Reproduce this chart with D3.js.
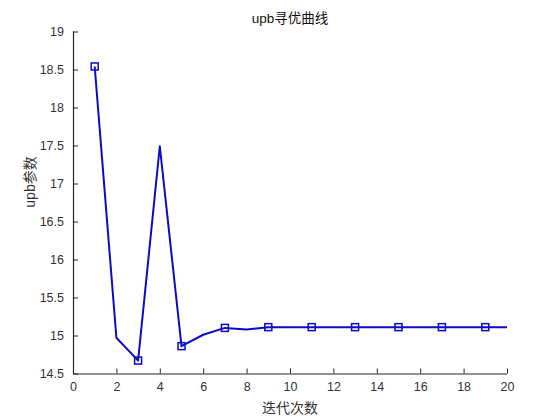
<!DOCTYPE html>
<html><head><meta charset="utf-8">
<script src="https://cdn.jsdelivr.net/npm/d3@7"></script>
<style>body{margin:0;background:#fff}svg{display:block}</style>
</head><body>
<script>
const iterations = [1,2,3,4,5,6,7,8,9,10,11,12,13,14,15,16,17,18,19,20];
const upbValues = [18.54,14.97,14.67,17.49,14.86,15.01,15.10,15.08,15.11,15.11,15.11,15.11,15.11,15.11,15.11,15.11,15.11,15.11,15.11,15.11];
const markerIters = [1,3,5,7,9,11,13,15,17,19];
const xTicks = [0,2,4,6,8,10,12,14,16,18,20];
const yTicks = [14.5,15,15.5,16,16.5,17,17.5,18,18.5,19];
const titleText = "upb寻优曲线";
const xLabel = "迭代次数";
const yLabel = "upb参数";

const W=560,H=420;
const svg=d3.select("body").append("svg").attr("width",W).attr("height",H);
const x=d3.scaleLinear().domain([0,20]).range([73,507]);
const y=d3.scaleLinear().domain([14.5,19]).range([373.5,31.5]);
const font="Arial, 'Liberation Sans', sans-serif";
const ax=svg.append("g").attr("transform","translate(0,373.5)")
  .call(d3.axisBottom(x).tickValues(xTicks).tickSize(-5).tickPadding(9).tickFormat(d3.format("d")));
const ay=svg.append("g").attr("transform","translate(73,0)")
  .call(d3.axisLeft(y).tickValues(yTicks).tickSize(-5).tickPadding(9).tickFormat(d=>String(d)));
[ax,ay].forEach(g=>{
  g.select(".domain").attr("stroke","#262626").attr("stroke-width",1.2);
  g.selectAll(".tick line").attr("stroke","#262626");
  g.selectAll(".tick text").attr("fill","#333").attr("font-size",12.5).attr("font-family",font);
});
ay.select(".domain").attr("d","M0.5,31.5V373.5");
ax.select(".domain").attr("d","M73,0.5H507");

const data=iterations.map((d,i)=>({x:d,y:upbValues[i]}));
svg.append("path").datum(data)
  .attr("fill","none").attr("stroke","#0a0ac8").attr("stroke-width",2)
  .attr("stroke-linejoin","round")
  .attr("d",d3.line().x(d=>x(d.x)).y(d=>y(d.y)));
const mk=data.filter(d=>markerIters.includes(d.x));
svg.selectAll("rect.m").data(mk).enter().append("rect")
  .attr("x",d=>x(d.x)-3.5).attr("y",d=>y(d.y)-3.5).attr("width",7).attr("height",7)
  .attr("fill","none").attr("stroke","#0a0ac8").attr("stroke-width",1.5);

svg.append("text").attr("x",290).attr("y",23).attr("text-anchor","middle")
  .attr("font-size",13.5).attr("font-family","Arial, 'Noto Sans CJK SC', sans-serif").attr("fill","#111").text(titleText);
svg.append("text").attr("x",290).attr("y",413).attr("text-anchor","middle")
  .attr("font-size",14).attr("font-family","'Noto Sans CJK SC', sans-serif").attr("fill","#333").text(xLabel);
svg.append("text").attr("transform","translate(35,182) rotate(-90)").attr("text-anchor","middle")
  .attr("font-size",14).attr("font-family","Arial, 'Noto Sans CJK SC', sans-serif").attr("fill","#333").text(yLabel);
</script>
</body></html>
